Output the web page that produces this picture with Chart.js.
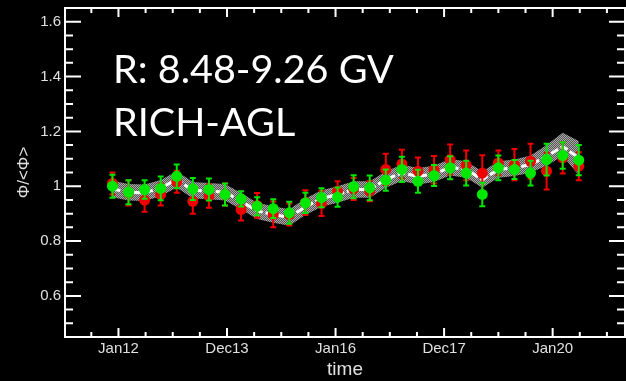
<!DOCTYPE html>
<html>
<head>
<meta charset="utf-8">
<script src="https://cdn.jsdelivr.net/npm/chart.js@4.4.0/dist/chart.umd.min.js"></script>
<style>
  html, body { margin: 0; padding: 0; background: #000; }
  canvas { display: block; }
</style>
</head>
<body>
<canvas id="chart" width="626" height="381"></canvas>
<script>
// time axis in Bartels rotations, one point every 4 rotations
const bartels = [2426, 2430, 2434, 2438, 2442, 2446, 2450, 2454, 2458, 2462,
                 2466, 2470, 2474, 2478, 2482, 2486, 2490, 2494, 2498, 2502,
                 2506, 2510, 2514, 2518, 2522, 2526, 2530, 2534, 2538, 2542];

const timeTicks = [2427.5, 2454.5, 2481.5, 2508.5, 2535.5];
const timeLabels = ["Jan12", "Dec13", "Jan16", "Dec17", "Jan20"];
const yTicks = [0.6, 0.8, 1, 1.2, 1.4, 1.6];

const greenRatio = [1.000, 0.978, 0.988, 0.992, 1.036, 0.990, 0.988, 0.970, 0.954, 0.927,
                    0.918, 0.903, 0.939, 0.958, 0.960, 0.998, 0.994, 1.022, 1.061, 1.018,
                    1.039, 1.067, 1.048, 0.970, 1.067, 1.061, 1.048, 1.097, 1.112, 1.095];
const greenErr = [0.042, 0.044, 0.034, 0.043, 0.043, 0.040, 0.040, 0.040, 0.028, 0.033,
                  0.034, 0.040, 0.037, 0.035, 0.035, 0.042, 0.045, 0.039, 0.046, 0.042,
                  0.038, 0.042, 0.045, 0.043, 0.045, 0.035, 0.045, 0.058, 0.048, 0.055];

const redRatio = [1.010, 0.976, 0.949, 0.970, 1.016, 0.945, 0.964, 0.970, 0.915, 0.930,
                  0.897, 0.897, 0.940, 0.937, 0.982, 0.990, 0.982, 1.061, 1.081, 1.055,
                  1.060, 1.097, 1.076, 1.048, 1.085, 1.079, 1.091, 1.055, 1.103, 1.073];
const redErr = [0.040, 0.046, 0.042, 0.040, 0.040, 0.045, 0.043, 0.040, 0.040, 0.045,
                0.047, 0.040, 0.045, 0.046, 0.036, 0.040, 0.037, 0.057, 0.052, 0.050,
                0.050, 0.055, 0.054, 0.065, 0.045, 0.057, 0.064, 0.067, 0.057, 0.051];

const model = [0.990, 0.978, 0.976, 0.993, 1.025, 0.985, 0.982, 0.978, 0.945, 0.910,
               0.897, 0.886, 0.925, 0.955, 0.970, 0.988, 0.988, 1.024, 1.049, 1.036,
               1.045, 1.069, 1.061, 1.024, 1.061, 1.067, 1.079, 1.109, 1.145, 1.103];
const bandHigh = [1.020, 1.008, 1.006, 1.023, 1.055, 1.015, 1.012, 1.008, 0.975, 0.940,
                  0.927, 0.916, 0.955, 0.985, 1.000, 1.018, 1.018, 1.054, 1.079, 1.066,
                  1.075, 1.099, 1.091, 1.054, 1.091, 1.097, 1.112, 1.150, 1.195, 1.165];
const bandLow = [0.960, 0.948, 0.946, 0.963, 0.995, 0.955, 0.952, 0.948, 0.915, 0.880,
                 0.867, 0.856, 0.895, 0.925, 0.940, 0.958, 0.958, 0.994, 1.019, 1.006,
                 1.015, 1.039, 1.031, 0.994, 1.031, 1.037, 1.049, 1.075, 1.110, 1.040];

const pts = (ys) => ys.map((y, i) => ({ x: bartels[i], y: y }));

// checkered grey fill for the band
const pc = document.createElement("canvas");
pc.width = 2; pc.height = 2;
const pctx = pc.getContext("2d");
pctx.fillStyle = "#555555"; pctx.fillRect(0, 0, 2, 2);
pctx.fillStyle = "#aaaaaa"; pctx.fillRect(0, 0, 1, 1); pctx.fillRect(1, 1, 1, 1);
const hatch = pctx.createPattern(pc, "repeat");

const errorBars = {
  id: "errorBars",
  beforeDatasetDraw(chart, args) {
    const ds = chart.data.datasets[args.index];
    if (!ds.errors) return;
    const ctx = chart.ctx, xs = chart.scales.x, ys = chart.scales.y;
    ctx.save();
    ctx.strokeStyle = ds.borderColor;
    ctx.lineWidth = 2;
    ds.data.forEach((p, i) => {
      const x = xs.getPixelForValue(p.x);
      const y0 = ys.getPixelForValue(p.y - ds.errors[i]);
      const y1 = ys.getPixelForValue(p.y + ds.errors[i]);
      ctx.beginPath();
      ctx.moveTo(x, y0); ctx.lineTo(x, y1);
      ctx.moveTo(x - 3, y0); ctx.lineTo(x + 3, y0);
      ctx.moveTo(x - 3, y1); ctx.lineTo(x + 3, y1);
      ctx.stroke();
    });
    ctx.restore();
  }
};

const frame = {
  id: "frame",
  afterDatasetsDraw(chart) {
    const ctx = chart.ctx, a = chart.chartArea;
    const xs = chart.scales.x, ys = chart.scales.y;
    ctx.save();
    ctx.strokeStyle = "#fff";
    ctx.lineWidth = 2;
    ctx.strokeRect(a.left, a.top, a.right - a.left, a.bottom - a.top);
    ctx.beginPath();
    // x ticks, 3 minor between majors
    const step = (timeTicks[1] - timeTicks[0]) / 4;
    for (let v = timeTicks[0] - 2 * step; v <= xs.max; v += step) {
      if (v <= xs.min) continue;
      const major = timeTicks.some(t => Math.abs(t - v) < 0.01);
      const len = major ? 9 : 5;
      const x = xs.getPixelForValue(v);
      ctx.moveTo(x, a.bottom); ctx.lineTo(x, a.bottom - len);
      ctx.moveTo(x, a.top); ctx.lineTo(x, a.top + len);
    }
    // y ticks every 0.05
    for (let k = 10; k <= 33; k++) {
      const v = k * 0.05;
      const major = k % 4 === 0;
      const len = major ? 16 : 8;
      const y = ys.getPixelForValue(v);
      ctx.moveTo(a.left, y); ctx.lineTo(a.left + len, y);
      ctx.moveTo(a.right, y); ctx.lineTo(a.right - len, y);
    }
    ctx.stroke();

    ctx.fillStyle = "#fff";
    ctx.font = "39.5px Lato";
    ctx.textBaseline = "alphabetic";
    ctx.fillText("R: 8.48-9.26 GV", 113, 83);
    ctx.fillText("RICH-AGL", 113, 136);
    ctx.restore();
  }
};

new Chart(document.getElementById("chart"), {
  type: "line",
  data: {
    datasets: [
      {
        label: "green",
        data: pts(greenRatio),
        errors: greenErr,
        showLine: false,
        borderColor: "#00e800",
        backgroundColor: "#00e800",
        pointRadius: 5.5,
        pointBorderWidth: 0
      },
      {
        label: "red",
        data: pts(redRatio),
        errors: redErr,
        showLine: false,
        borderColor: "#f00000",
        backgroundColor: "#f00000",
        pointRadius: 5.5,
        pointBorderWidth: 0
      },
      {
        label: "model",
        data: pts(model),
        borderColor: "#ffffff",
        borderWidth: 3,
        borderDash: [8, 3],
        pointRadius: 0,
        fill: false
      },
      {
        label: "band high",
        data: pts(bandHigh),
        borderWidth: 0,
        borderColor: "rgba(0,0,0,0)",
        backgroundColor: hatch,
        pointRadius: 0,
        fill: "+1"
      },
      {
        label: "band low",
        data: pts(bandLow),
        borderWidth: 0,
        borderColor: "rgba(0,0,0,0)",
        pointRadius: 0,
        fill: false
      }
    ]
  },
  options: {
    responsive: false,
    animation: false,
    devicePixelRatio: 1,
    layout: { autoPadding: false, padding: { top: 8, right: 1, left: 0, bottom: 0 } },
    plugins: { legend: { display: false }, tooltip: { enabled: false } },
    scales: {
      x: {
        type: "linear",
        min: 2414.2,
        max: 2553.5,
        grid: { display: false, drawTicks: false },
        border: { display: false },
        afterBuildTicks: (s) => { s.ticks = timeTicks.map(v => ({ value: v })); },
        afterFit: (s) => { s.height = 44; s.paddingLeft = 0; s.paddingRight = 0; },
        ticks: {
          autoSkip: false,
          maxRotation: 0,
          padding: 3,
          color: "#e0e0e0",
          font: { family: "Liberation Sans", size: 15 },
          callback: (v, i) => timeLabels[i]
        },
        title: {
          display: true,
          text: "time",
          color: "#e0e0e0",
          font: { family: "Liberation Sans", size: 19 },
          padding: { top: 0, bottom: 0 }
        }
      },
      y: {
        min: 0.45,
        max: 1.65,
        grid: { display: false, drawTicks: false },
        border: { display: false },
        afterBuildTicks: (s) => { s.ticks = yTicks.map(v => ({ value: v })); },
        afterFit: (s) => { s.width = 65; s.paddingTop = 0; s.paddingBottom = 0; },
        ticks: {
          autoSkip: false,
          padding: 4,
          color: "#e0e0e0",
          font: { family: "Liberation Sans", size: 15 },
          callback: (v) => String(Math.round(v * 10) / 10)
        },
        title: {
          display: true,
          text: "Φ/<Φ>",
          color: "#e0e0e0",
          font: { family: "Liberation Sans", size: 17 },
          padding: { top: 14, bottom: 0 }
        }
      }
    }
  },
  plugins: [errorBars, frame]
});
</script>
</body>
</html>
